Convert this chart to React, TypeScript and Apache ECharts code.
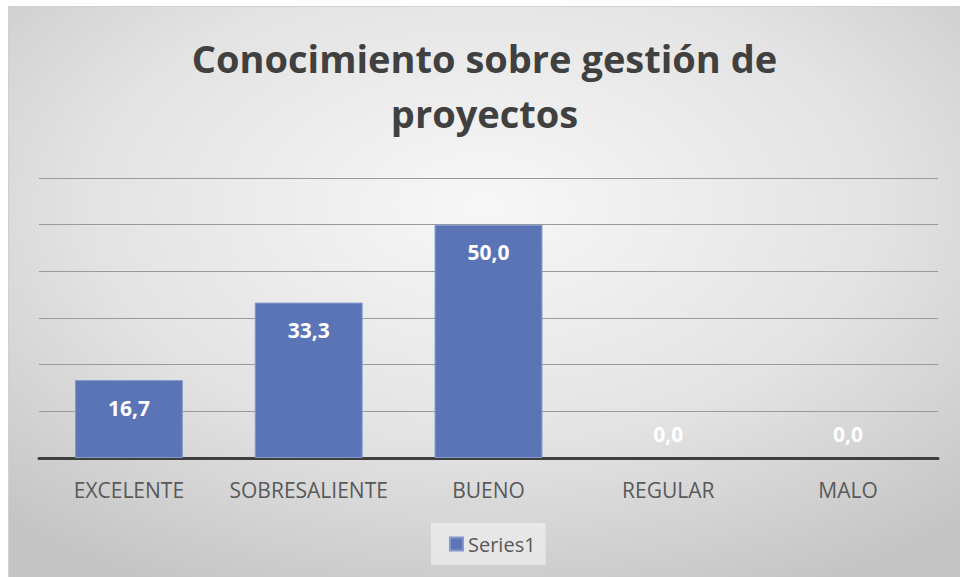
import React, { useEffect, useRef } from "react";
import * as echarts from "echarts";

const categories = ["EXCELENTE", "SOBRESALIENTE", "BUENO", "REGULAR", "MALO"];
const seriesValues = [16.7, 33.3, 50.0, 0.0, 0.0];
const seriesName = "Series1";
const titleText = "Conocimiento sobre gestión de\nproyectos";

export default function App() {
  const ref = useRef<HTMLDivElement>(null);
  useEffect(() => {
    if (!ref.current) return;
    const chart = echarts.init(ref.current, undefined, { renderer: "svg" });
    const fmt = (v: number) => v.toFixed(1).replace(".", ",");
    chart.setOption({
      animation: false,
      backgroundColor: new echarts.graphic.RadialGradient(0.5, 0.35, 0.75, [
        { offset: 0, color: "#f7f7f7" },
        { offset: 0.55, color: "#e3e3e3" },
        { offset: 1, color: "#c4c4c4" },
      ]),
      title: {
        text: titleText,
        left: "center",
        top: 18,
        padding: [5, 15, 5, 5],
        textStyle: {
          fontFamily: "Open Sans",
          fontWeight: "bold",
          fontSize: 38,
          color: "#404040",
          lineHeight: 55,
        },
      },
      legend: {
        bottom: 12,
        left: 422,
        data: [seriesName],
        itemWidth: 13,
        itemHeight: 13,
        icon: "rect",
        backgroundColor: "rgba(240,240,240,0.7)",
        padding: [11, 10, 11, 18],
        textStyle: { fontFamily: "Open Sans", fontSize: 20, color: "#595959" },
      },
      grid: { left: 30, right: 22, top: 171, bottom: 119 },
      xAxis: {
        type: "category",
        data: categories,
        axisTick: { show: false },
        axisLine: { lineStyle: { color: "#3f3f3f", width: 3 } },
        axisLabel: {
          interval: 0,
          hideOverlap: false,
          fontFamily: "Open Sans",
          fontSize: 21,
          color: "#595959",
          margin: 21,
        },
      },
      yAxis: {
        type: "value",
        min: 0,
        max: 60,
        interval: 10,
        axisLabel: { show: false },
        axisLine: { show: false },
        axisTick: { show: false },
        splitLine: { lineStyle: { color: "#9a9a9a", width: 1 } },
      },
      series: [
        {
          name: seriesName,
          type: "bar",
          barWidth: "60%",
          itemStyle: { color: "#5b74b6", borderColor: "#8497cc", borderWidth: 1 },
          data: seriesValues.map((v) => ({
            value: v,
            itemStyle: v === 0 ? { borderWidth: 0, color: "rgba(0,0,0,0)" } : undefined,
            label:
              v === 0
                ? { position: "insideBottom", distance: 14 }
                : { position: "insideTop", distance: 17 },
          })),
          label: {
            show: true,
            color: "#ffffff",
            fontFamily: "Open Sans",
            fontWeight: "bold",
            fontSize: 21,
            formatter: (p: any) => fmt(p.value),
          },
        },
      ],
    });
    return () => chart.dispose();
  }, []);
  return (
    <div
      ref={ref}
      style={{ position: "absolute", left: 8, top: 6, width: 952, height: 571, borderLeft: "1px solid #d0d0d0", borderTop: "1px solid #d0d0d0", boxSizing: "border-box" }}
    />
  );
}
